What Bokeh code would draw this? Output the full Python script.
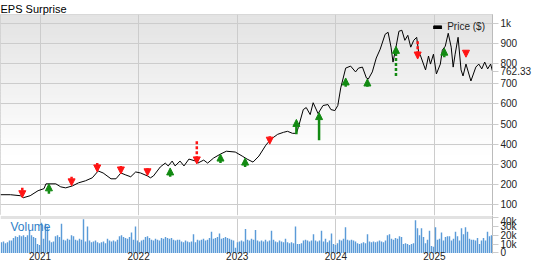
import numpy as np
from bokeh.plotting import figure
from bokeh.layouts import column
from bokeh.models import (Range1d, FixedTicker, Label, Arrow, NormalHead, Legend, LegendItem)
from bokeh.embed import file_html
from bokeh.resources import INLINE

# ---------------- data ----------------
price_t = [2020.60, 2020.70, 2020.80, 2020.83, 2020.90, 2020.98, 2021.04, 2021.06, 2021.16, 2021.21,
           2021.26, 2021.33, 2021.39, 2021.46, 2021.53, 2021.59, 2021.64, 2021.72, 2021.77, 2021.82,
           2021.87, 2021.92, 2021.97, 2022.02, 2022.09, 2022.12, 2022.15, 2022.22, 2022.27, 2022.30,
           2022.34, 2022.37, 2022.42, 2022.46, 2022.51, 2022.58, 2022.60, 2022.66, 2022.70, 2022.76,
           2022.83, 2022.89, 2022.98, 2023.05, 2023.10, 2023.16, 2023.22, 2023.29, 2023.34, 2023.41,
           2023.47, 2023.51, 2023.56, 2023.60, 2023.62, 2023.67, 2023.70, 2023.74, 2023.77, 2023.82,
           2023.87, 2023.92, 2023.95, 2023.99, 2024.02, 2024.05, 2024.10, 2024.15, 2024.20, 2024.23,
           2024.27, 2024.31, 2024.33, 2024.37, 2024.41, 2024.45, 2024.50, 2024.53, 2024.56, 2024.58,
           2024.61, 2024.64, 2024.67, 2024.70, 2024.73, 2024.76, 2024.79, 2024.82, 2024.84, 2024.86,
           2024.91, 2024.94, 2024.96, 2024.99, 2025.02, 2025.06, 2025.08, 2025.11, 2025.14, 2025.17,
           2025.19, 2025.21, 2025.24, 2025.27, 2025.29, 2025.32, 2025.37, 2025.42, 2025.45, 2025.48,
           2025.51, 2025.54, 2025.57, 2025.589]
price_v = [149, 149, 144, 134, 144, 169, 179, 203, 203, 188,
           183, 193, 208, 218, 233, 267, 257, 228, 228, 257,
           247, 238, 262, 257, 242, 233, 242, 287, 306, 292,
           316, 292, 316, 292, 326, 316, 306, 321, 306, 331,
           351, 365, 361, 341, 326, 311, 341, 395, 424, 449,
           459, 464, 454, 454, 484, 572, 582, 547, 606, 552,
           592, 597, 572, 567, 592, 680, 778, 788, 759, 778,
           783, 729, 724, 759, 828, 872, 946, 956, 882, 808,
           882, 961, 966, 916, 941, 882, 916, 931, 857, 838,
           769, 838, 798, 847, 749, 798, 867, 887, 951, 882,
           783, 847, 931, 769, 739, 798, 714, 783, 798, 774,
           808, 774, 798, 762.33]
last_price = 762.33
last_price_label = "762.33"

# weekly volume, thousands
vol_k = [12, 13, 11, 12, 14, 14, 17, 19, 18, 20, 19, 20, 18, 20, 25, 20, 18, 17, 10, 9,
         34, 16, 33, 30, 14, 12, 13, 19, 20, 18, 33, 15, 14, 16, 15, 20, 19, 15, 14, 16,
         15, 38, 13, 30, 14, 12, 13, 14, 12, 11, 12, 13, 11, 16, 14, 13, 14, 13, 15, 19,
         20, 18, 17, 16, 18, 23, 15, 30, 14, 12, 14, 15, 18, 19, 17, 15, 14, 16, 15, 14,
         17, 16, 18, 17, 16, 17, 15, 14, 15, 15, 13, 12, 14, 13, 12, 13, 21, 12, 15, 14,
         15, 16, 14, 15, 17, 24, 16, 17, 18, 22, 16, 17, 18, 17, 16, 15, 14, 6, 12, 13,
         14, 13, 27, 15, 14, 16, 15, 26, 14, 13, 14, 13, 15, 13, 14, 25, 15, 13, 12, 14,
         13, 12, 16, 12, 11, 12, 11, 30, 10, 10, 11, 14, 15, 14, 13, 14, 21, 14, 13, 14,
         25, 13, 16, 12, 14, 22, 10, 9, 11, 15, 14, 16, 29, 15, 14, 15, 14, 13, 11, 10,
         11, 12, 11, 21, 13, 12, 13, 12, 13, 14, 13, 12, 14, 20, 21, 16, 15, 17, 16, 19,
         18, 10, 11, 10, 9, 10, 11, 37, 28, 20, 28, 18, 11, 15, 25, 8, 7, 29, 15, 16,
         23, 14, 18, 19, 19, 14, 16, 24, 19, 14, 28, 21, 29, 24, 16, 15, 15, 14, 17, 10,
         14, 17, 14, 24, 19, 20]

# EPS surprise markers: date, direction, dashed shaft, low/high price of the arrow
eps_t = [2020.82, 2021.09, 2021.32, 2021.58, 2021.82, 2022.09, 2022.32, 2022.59, 2022.83, 2023.08,
         2023.33, 2023.60, 2023.83, 2024.10, 2024.32, 2024.61, 2024.83, 2025.10, 2025.32]
eps_up = [False, True, False, False, False, False, True, False, True, True,
          False, True, True, True, True, True, False, True, False]
eps_dashed = [False, False, False, False, False, False, False, True, False, False,
              False, False, False, False, False, True, True, False, False]
eps_lo = [134, 154, 193, 262, 252, 243, 238, 302, 306, 287,
          400, 449, 419, 685, 685, 739, 823, 832, 832]
eps_hi = [184, 203, 238, 306, 292, 282, 282, 415, 351, 331,
          440, 523, 557, 729, 724, 886, 911, 877, 867]

year_ticks = [2021, 2022, 2023, 2024, 2025]
year_labels = ["2021", "2022", "2023", "2024", "2025"]
price_ticks = [100, 200, 300, 400, 500, 600, 700, 800, 900, 1000]
price_labels = ["100", "200", "300", "400", "500", "600", "700", "800", "900", "1k"]
vol_ticks = [0, 10, 20, 30, 40]
vol_labels = ["0", "10k", "20k", "30k", "40k"]

# ---------------- styling ----------------
FONT = "Liberation Sans"
GRID = "#cccccc"
AXIS = "#bbbbbb"
GREEN = "#128a12"
RED = "#ff1414"
X0, X1 = 2020.599, 2025.589
PY0, PY1 = 45.7, 1044.3
FRAME_W, PRICE_H = 492, 201


def dy(px):
    return px * (PY1 - PY0) / PRICE_H


x_range = Range1d(X0, X1)

p1 = figure(width=538, height=215, x_range=x_range, y_range=Range1d(PY0, PY1),
            output_backend="svg", toolbar_location=None, x_axis_location=None,
            y_axis_location="right", min_border_left=0, min_border_right=46,
            min_border_top=12, min_border_bottom=0, outline_line_color=GRID,
            background_fill_color="white", border_fill_color="white")

# title
p1.title.text = "EPS Surprise"
p1.title.align = "left"
p1.title.text_font = FONT
p1.title.text_font_size = "11px"
p1.title.text_font_style = "normal"
p1.title.text_color = "black"
p1.title.standoff = 0
p1.title.offset = 0
p1.title.text_line_height = 1.0

# soft grey gradient background
n_bands = 60
edges = np.linspace(PY0, PY1, n_bands + 1)
frac_from_top = (PY1 - (edges[:-1] + edges[1:]) / 2) / (PY1 - PY0)
levels = 0xe3 + (0xff - 0xe3) * np.clip(frac_from_top / 0.7, 0, 1)
band_colors = ["#%02x%02x%02x" % (int(v), int(v), int(v)) for v in levels]
p1.quad(left=X0, right=X1, bottom=edges[:-1], top=edges[1:] + dy(0.5),
        fill_color=band_colors, line_color=None, level="image")

p1.xgrid.ticker = FixedTicker(ticks=year_ticks)
p1.ygrid.ticker = FixedTicker(ticks=price_ticks)
p1.grid.grid_line_color = GRID

# price axis (also carries the last-price marker)
ax = p1.yaxis[0]
ax.ticker = FixedTicker(ticks=price_ticks + [last_price])
overrides = {t: l for t, l in zip(price_ticks, price_labels)}
overrides[last_price] = last_price_label
ax.major_label_overrides = overrides
ax.axis_line_color = AXIS
ax.major_tick_line_color = GRID
ax.major_tick_out = 6
ax.major_tick_in = 0
ax.minor_tick_line_color = None
ax.major_label_standoff = 2
ax.major_label_text_font = FONT
ax.major_label_text_font_size = "10px"
ax.major_label_text_color = "#222222"

p1.line(price_t, price_v, line_color="black", line_width=1)

# EPS surprise arrows
for t, up, dashed, lo, hi in zip(eps_t, eps_up, eps_dashed, eps_lo, eps_hi):
    c = GREEN if up else RED
    ys, ye = (lo, hi) if up else (hi, lo)
    p1.add_layout(Arrow(x_start=t, y_start=ys, x_end=t, y_end=ye,
                        line_color=c, line_width=2.5,
                        line_dash="3 2" if dashed else "solid",
                        end=NormalHead(size=7, fill_color=c, line_color=c, line_width=1)))

# legend
dummy = p1.quad(left=[np.nan], right=[np.nan], bottom=[np.nan], top=[np.nan],
                fill_color="black", line_color="black")
legend = Legend(items=[LegendItem(label="Price ($)", renderers=[dummy])], location="top_right",
                background_fill_alpha=0, border_line_alpha=0, margin=0, padding=7,
                glyph_width=10, glyph_height=4, label_height=10, label_standoff=5,
                label_text_font=FONT, label_text_font_size="10px", label_text_color="#222222")
p1.add_layout(legend)

# ---------------- volume panel ----------------
p2 = figure(width=538, height=47, x_range=x_range, y_range=Range1d(-0.6, 42.3),
            output_backend="svg", toolbar_location=None, x_axis_location="below",
            y_axis_location="right", min_border_left=0, min_border_right=46,
            min_border_top=0, min_border_bottom=0, outline_line_color=None,
            background_fill_color="white", border_fill_color="white")

n = len(vol_k)
step = (X1 - X0) / n
vol_t = [X0 + (i + 0.5) * step for i in range(n)]
p2.vbar(x=vol_t, top=vol_k, bottom=0, width=step * 0.72, fill_color="#5b9bd8",
        line_color=None)

p2.xgrid.ticker = FixedTicker(ticks=year_ticks)
p2.xgrid.grid_line_color = GRID
p2.ygrid.ticker = FixedTicker(ticks=[40])
p2.ygrid.grid_line_color = "#e2e2e2"
p2.ygrid.grid_line_width = 3

vy = p2.yaxis[0]
vy.ticker = FixedTicker(ticks=vol_ticks)
vy.major_label_overrides = {t: l for t, l in zip(vol_ticks, vol_labels)}
vy.axis_line_color = AXIS
vy.major_tick_line_color = GRID
vy.major_tick_out = 6
vy.major_tick_in = 0
vy.minor_tick_line_color = None
vy.major_label_standoff = 2
vy.major_label_text_font = FONT
vy.major_label_text_font_size = "10px"
vy.major_label_text_color = "#222222"

vx = p2.xaxis[0]
vx.ticker = FixedTicker(ticks=year_ticks)
vx.major_label_overrides = {t: l for t, l in zip(year_ticks, year_labels)}
vx.axis_line_color = None
vx.major_tick_line_color = None
vx.minor_tick_line_color = None
vx.major_tick_out = 0
vx.major_tick_in = 0
vx.major_label_standoff = -2
vx.major_label_text_font = FONT
vx.major_label_text_font_size = "10px"
vx.major_label_text_color = "#222222"

p2.add_layout(Label(x=X0, y=42.3, x_offset=10, y_offset=-4, text="Volume",
                    text_baseline="top", text_font=FONT, text_font_size="12px",
                    text_color="#2f7fc8"))

layout = column(p1, p2, spacing=0)
open("out.html", "w").write(file_html(layout, INLINE))
